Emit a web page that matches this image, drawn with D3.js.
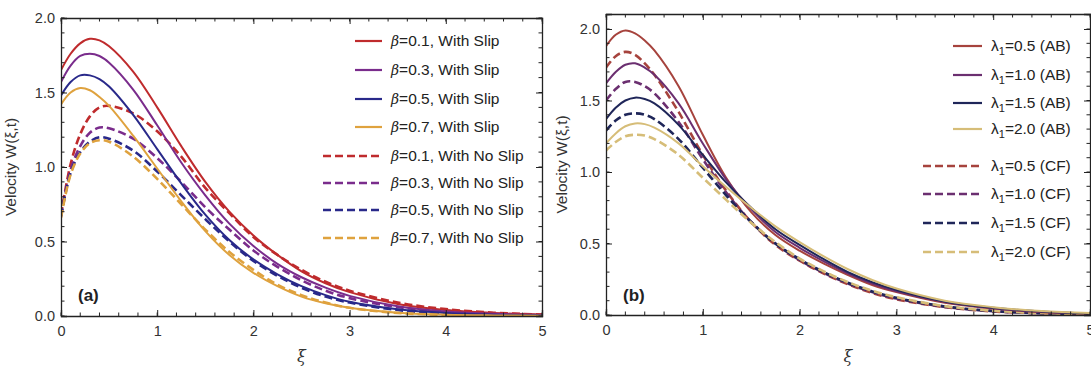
<!DOCTYPE html>
<html>
<head>
<meta charset="utf-8">
<script src="https://cdn.jsdelivr.net/npm/d3@7"></script>
<style>
  body { margin: 0; background: #fff; }
  svg { font-family: "Liberation Sans", Arial, sans-serif; }
</style>
</head>
<body>
<div id="chart"></div>
<script>
// xi sample points shared by every curve
const xi = [0, 0.1, 0.2, 0.3, 0.4, 0.5, 0.75, 1, 1.25, 1.5, 1.75, 2, 2.25, 2.5, 2.75, 3, 3.5, 4, 4.5, 5]

// panel (a): beta, with slip (solid) / with no slip (dashed)
const betaLabels = ["0.1", "0.3", "0.5", "0.7"]
const slipA = [
  [1.65, 1.76, 1.83, 1.86, 1.85, 1.81, 1.64, 1.40, 1.14, 0.90, 0.70, 0.54, 0.41, 0.30, 0.22, 0.16, 0.08, 0.04, 0.02, 0.01],
  [1.57, 1.68, 1.745, 1.76, 1.745, 1.70, 1.52, 1.28, 1.03, 0.81, 0.62, 0.47, 0.35, 0.26, 0.19, 0.135, 0.065, 0.03, 0.015, 0.006],
  [1.48, 1.57, 1.615, 1.615, 1.59, 1.54, 1.35, 1.12, 0.89, 0.68, 0.51, 0.38, 0.28, 0.20, 0.14, 0.095, 0.045, 0.02, 0.009, 0.004],
  [1.42, 1.50, 1.53, 1.515, 1.47, 1.41, 1.21, 0.99, 0.77, 0.57, 0.41, 0.29, 0.20, 0.13, 0.085, 0.055, 0.022, 0.009, 0.004, 0.002]
]
const noSlipA = [
  [0.68, 1.02, 1.22, 1.34, 1.40, 1.41, 1.36, 1.24, 1.07, 0.86, 0.69, 0.53, 0.41, 0.31, 0.23, 0.17, 0.09, 0.046, 0.022, 0.01],
  [0.67, 0.98, 1.14, 1.23, 1.265, 1.26, 1.19, 1.06, 0.90, 0.73, 0.58, 0.44, 0.33, 0.24, 0.17, 0.12, 0.06, 0.03, 0.013, 0.006],
  [0.67, 0.96, 1.10, 1.17, 1.20, 1.19, 1.11, 0.97, 0.81, 0.65, 0.50, 0.37, 0.27, 0.19, 0.13, 0.09, 0.04, 0.018, 0.008, 0.003],
  [0.66, 0.95, 1.09, 1.16, 1.18, 1.17, 1.07, 0.92, 0.75, 0.58, 0.43, 0.31, 0.21, 0.14, 0.09, 0.055, 0.02, 0.008, 0.003, 0.001]
]
const colorsA = ["#bf2b2d", "#7a2c8c", "#29298a", "#dfa23e"]

// panel (b): lambda1, AB (solid) / CF (dashed)
const lambdaLabels = ["0.5", "1.0", "1.5", "2.0"]
const abB = [
  [1.88, 1.96, 1.99, 1.97, 1.92, 1.85, 1.60, 1.26, 0.95, 0.72, 0.56, 0.45, 0.36, 0.28, 0.21, 0.16, 0.085, 0.045, 0.02, 0.01],
  [1.62, 1.70, 1.75, 1.76, 1.73, 1.68, 1.48, 1.20, 0.94, 0.74, 0.58, 0.47, 0.375, 0.29, 0.22, 0.165, 0.09, 0.048, 0.022, 0.01],
  [1.37, 1.45, 1.50, 1.52, 1.51, 1.48, 1.33, 1.12, 0.92, 0.75, 0.60, 0.49, 0.39, 0.30, 0.23, 0.175, 0.095, 0.05, 0.025, 0.012],
  [1.20, 1.27, 1.32, 1.34, 1.335, 1.31, 1.20, 1.04, 0.89, 0.75, 0.62, 0.51, 0.41, 0.32, 0.245, 0.185, 0.10, 0.055, 0.028, 0.014]
]
const cfB = [
  [1.73, 1.81, 1.84, 1.82, 1.76, 1.68, 1.42, 1.12, 0.86, 0.65, 0.49, 0.38, 0.29, 0.215, 0.155, 0.11, 0.055, 0.025, 0.012, 0.005],
  [1.50, 1.58, 1.63, 1.63, 1.60, 1.55, 1.35, 1.09, 0.85, 0.65, 0.50, 0.385, 0.295, 0.22, 0.16, 0.115, 0.057, 0.027, 0.012, 0.005],
  [1.29, 1.36, 1.40, 1.41, 1.40, 1.37, 1.23, 1.03, 0.83, 0.65, 0.50, 0.39, 0.30, 0.225, 0.165, 0.12, 0.06, 0.028, 0.013, 0.006],
  [1.15, 1.21, 1.25, 1.26, 1.255, 1.23, 1.12, 0.96, 0.80, 0.645, 0.51, 0.395, 0.305, 0.23, 0.17, 0.125, 0.062, 0.03, 0.014, 0.006]
]
const colorsB = ["#a6433d", "#6b2f70", "#1f2659", "#d6bd78"]

const xTicks = [0, 1, 2, 3, 4, 5]
const yTicks = [0, 0.5, 1, 1.5, 2]

const width = 1091
const height = 367

const svg = d3.select("#chart")
  .append("svg")
    .attr("width", width)
    .attr("height", height)

function drawPanel(opts) {
  const xScale = d3.scaleLinear().domain([0, 5]).range([opts.left, opts.right])
  const yScale = d3.scaleLinear().domain([0, opts.yMax]).range([opts.bottom, opts.top])

  const g = svg.append("g")

  const line = d3.line()
    .curve(d3.curveCatmullRom.alpha(0.5))
    .x((d, i) => xScale(xi[i]))
    .y(d => yScale(Math.max(0, d)))

  // clip so the curves stay in the frame
  const clipId = "clip-" + opts.tag
  svg.append("clipPath").attr("id", clipId)
    .append("rect")
      .attr("x", opts.left).attr("y", opts.top)
      .attr("width", opts.right - opts.left).attr("height", opts.bottom - opts.top)

  const curves = g.append("g").attr("clip-path", `url(#${clipId})`)

  // dashed first, solid on top
  opts.dashed.forEach((vals, i) => {
    curves.append("path")
      .attr("d", line(vals))
      .attr("fill", "none")
      .attr("stroke", opts.colors[i])
      .attr("stroke-width", 2.6)
      .attr("stroke-dasharray", "8,4")
  })
  opts.solid.forEach((vals, i) => {
    curves.append("path")
      .attr("d", line(vals))
      .attr("fill", "none")
      .attr("stroke", opts.colors[i])
      .attr("stroke-width", 2)
  })

  // frame with inward ticks on all four sides
  const minorX = d3.range(0, 5.001, 0.2)
  const minorY = d3.range(0, opts.yMax + 0.001, 0.1)
  const bottomAxis = d3.axisBottom(xScale).tickValues(xTicks).tickSize(-6).tickPadding(10).tickFormat(d3.format("d"))
  const leftAxis = d3.axisLeft(yScale).tickValues(yTicks).tickSize(-6).tickPadding(6).tickFormat(d3.format(".1f"))

  const axes = g.append("g")
  const addMinor = (sel, vals, scale, horizontal, len) => {
    sel.selectAll(null).data(vals).join("line")
      .attr("x1", d => horizontal ? scale(d) : 0)
      .attr("x2", d => horizontal ? scale(d) : len)
      .attr("y1", d => horizontal ? 0 : scale(d))
      .attr("y2", d => horizontal ? len : scale(d))
      .attr("stroke", "#222")
      .attr("stroke-width", 1)
  }

  const bx = axes.append("g").attr("transform", `translate(0,${opts.bottom})`).call(bottomAxis)
  addMinor(bx, minorX, xScale, true, -3.5)
  const tx = axes.append("g").attr("transform", `translate(0,${opts.top})`)
    .call(d3.axisTop(xScale).tickValues(xTicks).tickSize(-6).tickFormat(""))
  addMinor(tx, minorX, xScale, true, 3.5)
  const ly = axes.append("g").attr("transform", `translate(${opts.left},0)`).call(leftAxis)
  addMinor(ly, minorY, yScale, false, 3.5)
  const ry = axes.append("g").attr("transform", `translate(${opts.right},0)`)
    .call(d3.axisRight(yScale).tickValues(yTicks).tickSize(-6).tickFormat(""))
  addMinor(ry, minorY, yScale, false, -3.5)

  axes.selectAll(".domain").attr("stroke", "#222").attr("stroke-width", 1.3)
  axes.selectAll(".tick line").attr("stroke", "#222")
  axes.selectAll(".tick text")
    .attr("font-size", 14.5)
    .attr("fill", "#333")
    .attr("font-family", "Liberation Sans, Arial, sans-serif")

  // axis titles
  g.append("text")
    .attr("transform", `translate(${opts.yLabelX},${(opts.top + opts.bottom) / 2}) rotate(-90)`)
    .attr("text-anchor", "middle")
    .attr("font-size", 15.5)
    .attr("fill", "#333")
    .text("Velocity W(ξ,t)")
  g.append("text")
    .attr("x", (opts.left + opts.right) / 2 - 0)
    .attr("y", 362)
    .attr("text-anchor", "middle")
    .attr("font-size", 16)
    .attr("font-style", "italic")
    .attr("font-family", "DejaVu Serif, serif")
    .attr("fill", "#333")
    .text("ξ")

  // panel tag
  g.append("text")
    .attr("x", opts.left + 17)
    .attr("y", 301)
    .attr("font-size", 17)
    .attr("font-weight", "bold")
    .attr("fill", "#222")
    .text(opts.tag === "a" ? "(a)" : "(b)")

  // legend
  const leg = g.append("g")
  opts.legendRows.forEach((row, i) => {
    const y = row.y
    leg.append("line")
      .attr("x1", row.dashed ? opts.legX0 : opts.legX1)
      .attr("x2", opts.legX2)
      .attr("y1", y).attr("y2", y)
      .attr("stroke", row.color)
      .attr("stroke-width", row.dashed ? 2.6 : 2.2)
      .attr("stroke-dasharray", row.dashed ? "8,4" : null)
    const t = leg.append("text")
      .attr("x", opts.legX2 + 9)
      .attr("y", y + 5)
      .attr("font-size", 15.5)
      .attr("fill", "#222")
    row.write(t)
  })
}

// legend rows for (a)
const rowsA = []
const legYA = [41, 70, 99, 127, 156, 183, 210, 238]
betaLabels.forEach((b, i) => rowsA.push({ dashed: false, color: colorsA[i], y: legYA[i], label: b, kind: "With Slip" }))
betaLabels.forEach((b, i) => rowsA.push({ dashed: true, color: colorsA[i], y: legYA[i + 4], label: b, kind: "With No Slip" }))
rowsA.forEach(r => {
  r.write = t => {
    t.append("tspan").attr("font-style", "italic").attr("font-family", "DejaVu Serif, serif").attr("font-size", 14).text("β")
    t.append("tspan").text(`=${r.label}, ${r.kind}`)
  }
})

// legend rows for (b)
const rowsB = []
const legYB = [46, 75, 103, 129, 166, 194, 223, 252]
lambdaLabels.forEach((l, i) => rowsB.push({ dashed: false, color: colorsB[i], y: legYB[i], label: l, kind: "(AB)" }))
lambdaLabels.forEach((l, i) => rowsB.push({ dashed: true, color: colorsB[i], y: legYB[i + 4], label: l, kind: "(CF)" }))
rowsB.forEach(r => {
  r.write = t => {
    t.append("tspan").text("λ")
    t.append("tspan").attr("font-size", 11).attr("dy", 4).text("1")
    t.append("tspan").attr("dy", -4).text(`=${r.label} ${r.kind}`)
  }
})

drawPanel({
  tag: "a", left: 61, right: 542, top: 18, bottom: 316, yMax: 2.0,
  solid: slipA, dashed: noSlipA, colors: colorsA,
  yLabelX: 16, legX0: 323, legX1: 355, legX2: 382, legendRows: rowsA
})

drawPanel({
  tag: "b", left: 606, right: 1090, top: 14, bottom: 315, yMax: 2.105,
  solid: abB, dashed: cfB, colors: colorsB,
  yLabelX: 567, legX0: 923, legX1: 953, legX2: 982, legendRows: rowsB
})
</script>
</body>
</html>
